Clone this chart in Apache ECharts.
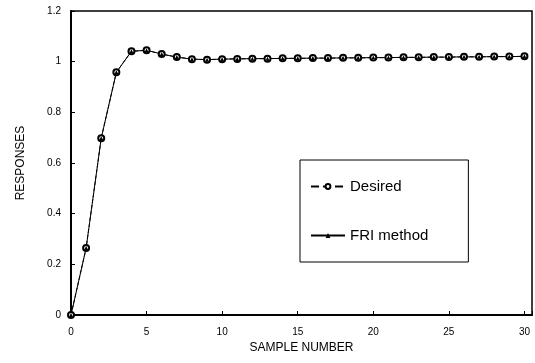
<!DOCTYPE html>
<html><head><meta charset="utf-8">
<script src="https://cdn.jsdelivr.net/npm/echarts@6/dist/echarts.min.js"></script>
<style>html,body{margin:0;padding:0;background:#fff}#c{width:535px;height:363px}</style>
</head><body><div id="c"></div>
<script>
var samples = [0,1,2,3,4,5,6,7,8,9,10,11,12,13,14,15,16,17,18,19,20,21,22,23,24,25,26,27,28,29,30];
var desired = [0,0.264,0.698,0.958,1.041,1.045,1.030,1.018,1.010,1.008,1.010,1.011,1.012,1.012,1.013,1.013,1.014,1.014,1.015,1.015,1.016,1.016,1.017,1.017,1.018,1.018,1.019,1.019,1.020,1.020,1.021];
var fri = [0,0.264,0.698,0.958,1.041,1.045,1.030,1.018,1.010,1.008,1.010,1.011,1.012,1.012,1.013,1.013,1.014,1.014,1.015,1.015,1.016,1.016,1.017,1.017,1.018,1.018,1.019,1.019,1.020,1.020,1.021];
var yTicks = ['0','0.2','0.4','0.6','0.8','1','1.2'];
var FONT = 'Liberation Sans';
var chart = echarts.init(document.getElementById('c'));
chart.setOption({
  animation:false,
  backgroundColor:'#fff',
  grid:{left:71,right:3,top:11,bottom:48,show:true,borderColor:'#000',borderWidth:1.5},
  legend:{
    left:300, top:160, orient:'vertical', itemGap:34,
    padding:[19,40,19,10],
    borderColor:'#000', borderWidth:1,
    itemWidth:34, itemHeight:6,
    textStyle:{fontFamily:FONT,fontSize:15,color:'#000'},
    data:[{name:'Desired'},{name:'FRI method'}]
  },
  xAxis:{
    type:'value', min:0, max:30.5, interval:5,
    name:'SAMPLE NUMBER', nameLocation:'middle', nameGap:24,
    nameTextStyle:{fontFamily:FONT,fontSize:12,color:'#000'},
    axisLine:{lineStyle:{color:'#000',width:2}},
    axisTick:{inside:true,length:4,lineStyle:{color:'#000'}},
    axisLabel:{fontFamily:FONT,fontSize:10,color:'#000',margin:12,
      formatter:function(v){return v%5===0?String(v):'';}},
    splitLine:{show:false}
  },
  yAxis:{
    type:'value', min:0, max:1.2, interval:0.2,
    name:'RESPONSES', nameLocation:'middle', nameGap:44, nameRotate:90,
    nameTextStyle:{fontFamily:FONT,fontSize:12,color:'#000'},
    axisLine:{lineStyle:{color:'#000',width:2}},
    axisTick:{inside:true,length:4,lineStyle:{color:'#000'}},
    axisLabel:{fontFamily:FONT,fontSize:10,color:'#000',margin:10,
      formatter:function(v){return yTicks[Math.round(v/0.2)];}},
    splitLine:{show:false}
  },
  series:[
    {name:'Desired', type:'line', data:samples.map(function(x,i){return [x,desired[i]];}),
     symbol:'emptyCircle', symbolSize:6,
     lineStyle:{color:'#000',width:1,type:'dashed'},
     itemStyle:{color:'#000',borderColor:'#000',borderWidth:1.5}},
    {name:'FRI method', type:'line', data:samples.map(function(x,i){return [x,fri[i]];}),
     symbol:'triangle', symbolSize:4,
     lineStyle:{color:'#000',width:1},
     itemStyle:{color:'#000'}}
  ]
});
</script></body></html>
